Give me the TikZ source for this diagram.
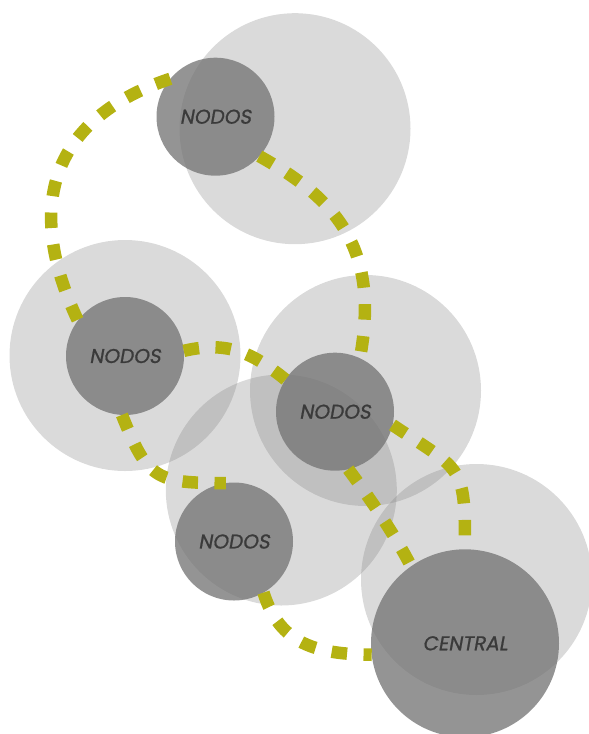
\documentclass[tikz,border=0pt]{standalone}
\usepackage{fontspec}
\newfontfamily\nodefont[FakeSlant=0.18,FakeBold=0.9]{Poppins}
\definecolor{dashgreen}{RGB}{180,178,18}
\definecolor{labelgray}{RGB}{58,58,58}
\begin{document}
\begin{tikzpicture}[x=1pt,y=-1pt,
  halo/.style={fill=gray,fill opacity=0.29},
  hub/.style={circle,fill=black!55,fill opacity=0.76,text opacity=1,draw=none,
    inner sep=0pt,outer sep=0pt,text=labelgray,
    font=\nodefont\fontsize{20}{20}\selectfont},
  link/.style={draw=dashgreen,line width=12.5pt,dash pattern=on 15.5pt off 16.5pt}]
\useasboundingbox (0,0) rectangle (589,734);
\clip (0,0) rectangle (589,734);
% light halos
\fill[halo] (295,128.7) circle (115.5pt);
\fill[halo] (125,355.5) circle (115.5pt);
\fill[halo] (365.5,390.5) circle (115.5pt);
\fill[halo] (281.3,490) circle (115.5pt);
\fill[halo] (476.5,579.5) circle (115.5pt);
% nodes
\node[hub,minimum size=118pt] (n1) at (215.5,116.7) {NODOS};
\node[hub,minimum size=118pt] (n2) at (125,356) {NODOS};
\node[hub,minimum size=118pt] (n3) at (335,411.7) {NODOS};
\node[hub,minimum size=118pt] (n4) at (234,541.5) {NODOS};
\node[hub,minimum size=188pt] (n5) at (465,643.3) {CENTRAL};
% links
\draw[link] (n1.140) .. controls (52,118) and (23,205) .. (n2.143);
\draw[link] (n1.318) .. controls (338,200) and (380,250) .. (n3.65);
\draw[link] (n2.5) .. controls (230,340) and (255,355) .. (n3.147);
\draw[link] (n2.267) .. controls (148,480) and (156,483) .. (n4.98);
\draw[link] (n3.347) .. controls (463,472) and (465,464) .. (n5.90);
\draw[link] (n3.283) .. controls (369,497) and (395,535) .. (n5.125);
\draw[link] (n4.300) .. controls (280,645) and (317,654) .. (n5.187);
\end{tikzpicture}
\end{document}
